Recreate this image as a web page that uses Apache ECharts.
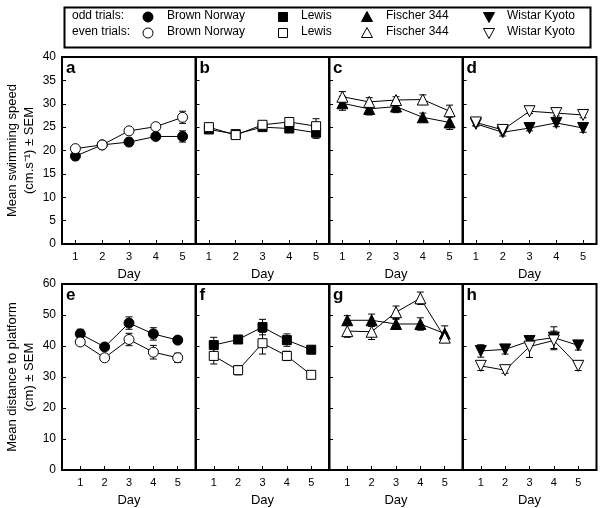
<!DOCTYPE html>
<html><head><meta charset="utf-8">
<script src="https://cdn.jsdelivr.net/npm/echarts@6/dist/echarts.min.js"></script>
<style>html,body{margin:0;padding:0;background:#fff}#c{width:600px;height:508px}</style>
</head><body><div id="c"></div>
<script>
const days = [1, 2, 3, 4, 5];
const dayTicks = [1, 2, 3, 4, 5];
const panelLetters = ['a','b','c','d','e','f','g','h'];
const strains = ['Brown Norway', 'Lewis', 'Fischer 344', 'Wistar Kyoto'];

// Swimming speed (cm/s), odd / even trials, with SEM
const speedBN_odd  = [18.8, 21.2, 21.8, 23.0, 23.0];
const speedBN_oddE = [0.8, 0.6, 0.8, 0.6, 1.2];
const speedBN_even = [20.4, 21.2, 24.2, 25.1, 27.1];
const speedBN_evenE= [0.5, 0.5, 0.5, 0.6, 1.3];
const speedLE_odd  = [24.5, 23.5, 25.0, 24.7, 23.8];
const speedLE_oddE = [0.6, 0.6, 0.7, 0.6, 1.2];
const speedLE_even = [25.0, 23.3, 25.5, 26.1, 25.2];
const speedLE_evenE= [0.5, 0.5, 0.5, 0.6, 1.6];
const speedF_odd   = [30.1, 28.9, 29.4, 27.1, 26.0];
const speedF_oddE  = [1.5, 1.3, 1.3, 0.9, 1.5];
const speedF_even  = [31.5, 30.4, 30.8, 30.9, 28.4];
const speedF_evenE = [1.1, 0.9, 0.7, 1.0, 1.3];
const speedWK_odd  = [25.7, 23.9, 24.8, 25.9, 24.8];
const speedWK_oddE = [0.5, 0.8, 0.6, 0.8, 0.9];
const speedWK_even = [26.0, 24.4, 28.4, 28.0, 27.6];
const speedWK_evenE= [0.6, 0.6, 0.5, 0.6, 0.6];

// Distance to platform (cm), odd / even trials, with SEM
const distBN_odd  = [43.9, 39.7, 47.4, 43.9, 41.9];
const distBN_oddE = [1.5, 1.0, 2.0, 2.0, 1.0];
const distBN_even = [41.3, 36.2, 42.1, 38.0, 36.2];
const distBN_evenE= [1.0, 1.0, 2.0, 2.2, 1.5];
const distLE_odd  = [40.3, 42.1, 46.1, 41.9, 38.8];
const distLE_oddE = [2.5, 1.0, 2.5, 2.0, 1.0];
const distLE_even = [36.8, 32.2, 40.9, 36.8, 30.7];
const distLE_evenE= [2.6, 1.5, 3.5, 1.5, 1.0];
const distF_odd   = [48.3, 48.3, 47.1, 47.1, 44.0];
const distF_oddE  = [1.5, 2.0, 1.5, 2.0, 2.5];
const distF_even  = [44.8, 44.6, 50.9, 55.4, 42.7];
const distF_evenE = [2.0, 2.5, 2.0, 2.0, 1.5];
const distWK_odd  = [38.4, 38.9, 41.6, 42.7, 40.2];
const distWK_oddE = [2.0, 1.5, 1.5, 3.5, 1.5];
const distWK_even = [33.6, 32.2, 39.8, 41.8, 33.6];
const distWK_evenE= [1.5, 1.0, 3.5, 3.0, 1.5];

const panels = [
  [speedBN_odd, speedBN_oddE, speedBN_even, speedBN_evenE],
  [speedLE_odd, speedLE_oddE, speedLE_even, speedLE_evenE],
  [speedF_odd, speedF_oddE, speedF_even, speedF_evenE],
  [speedWK_odd, speedWK_oddE, speedWK_even, speedWK_evenE],
  [distBN_odd, distBN_oddE, distBN_even, distBN_evenE],
  [distLE_odd, distLE_oddE, distLE_even, distLE_evenE],
  [distF_odd, distF_oddE, distF_even, distF_evenE],
  [distWK_odd, distWK_oddE, distWK_even, distWK_evenE]
];
const symbols = ['circle', 'rect', 'triangle', 'triangle'];
const symRot = [0, 0, 0, 180];
const symSize = [10, 9, 11, 11];

const FONT = 'Arial, "Liberation Sans", sans-serif';
const lefts = [62, 195.5, 329, 462.5];
const W = 134;
const grids = [], xAxes = [], yAxes = [], series = [], graphics = [];

for (let i = 0; i < 8; i++) {
  const row = i < 4 ? 0 : 1, col = i % 4;
  const top = row === 0 ? 57 : 284;
  const h = row === 0 ? 187 : 188;
  grids.push({left: lefts[col], top: top, width: W, height: h, show: true,
    borderColor: '#000', borderWidth: 2, backgroundColor: 'transparent'});
  xAxes.push({type: 'value', gridIndex: i,
    min: row === 0 ? 0.5 : 0.25, max: row === 0 ? 5.5 : 5.75,
    name: 'Day', nameLocation: 'middle', nameGap: 24,
    nameTextStyle: {fontFamily: FONT, fontSize: 13, color: '#000'},
    axisLine: {show: false}, splitLine: {show: false},
    axisTick: {show: true, inside: true, length: 4, lineStyle: {color: '#000'}, customValues: dayTicks},
    axisLabel: {show: true, fontFamily: FONT, fontSize: 11, color: '#000', margin: 7, customValues: dayTicks}
  });
  const isFirst = col === 0;
  yAxes.push({type: 'value', gridIndex: i, min: 0,
    max: row === 0 ? 40 : 60, interval: row === 0 ? 5 : 10,
    name: isFirst ? (row === 0 ? 'Mean swimming speed\n(cm.s\u207B\u00B9) \u00B1 SEM' : 'Mean distance to platform\n(cm) \u00B1 SEM') : '',
    nameLocation: 'middle', nameRotate: 90, nameGap: 24,
    nameTextStyle: {fontFamily: FONT, fontSize: 13, color: '#000', lineHeight: 17},
    axisLine: {show: false}, splitLine: {show: false},
    axisTick: {show: true, inside: true, length: 4, lineStyle: {color: '#000'}},
    axisLabel: {show: isFirst, fontFamily: FONT, fontSize: 12, color: '#000', margin: 6}
  });
  const p = panels[i];
  const s = col;
  const errData = [];
  for (let k = 0; k < days.length; k++) {
    errData.push([days[k], p[0][k], p[1][k]]);
    errData.push([days[k], p[2][k], p[3][k]]);
  }
  series.push({type: 'custom', xAxisIndex: i, yAxisIndex: i, z: 1, silent: true,
    data: errData,
    renderItem: function (params, api) {
      const x = api.value(0), m = api.value(1), e = api.value(2);
      const hi = api.coord([x, m + e]), lo = api.coord([x, m - e]);
      const cw = 3.5;
      const st = {stroke: '#000', lineWidth: 1, fill: null};
      return {type: 'group', children: [
        {type: 'line', shape: {x1: hi[0], y1: hi[1], x2: lo[0], y2: lo[1]}, style: st},
        {type: 'line', shape: {x1: hi[0] - cw, y1: hi[1], x2: hi[0] + cw, y2: hi[1]}, style: st},
        {type: 'line', shape: {x1: lo[0] - cw, y1: lo[1], x2: lo[0] + cw, y2: lo[1]}, style: st}
      ]};
    }
  });
  series.push({type: 'line', xAxisIndex: i, yAxisIndex: i, z: 2,
    data: days.map((d, k) => [d, p[0][k]]),
    symbol: symbols[s], symbolRotate: symRot[s], symbolSize: symSize[s],
    showAllSymbol: true, lineStyle: {color: '#000', width: 1},
    itemStyle: {color: '#000', borderColor: '#000', borderWidth: 1}, animation: false
  });
  series.push({type: 'line', xAxisIndex: i, yAxisIndex: i, z: 3,
    data: days.map((d, k) => [d, p[2][k]]),
    symbol: symbols[s], symbolRotate: symRot[s], symbolSize: symSize[s],
    showAllSymbol: true, lineStyle: {color: '#000', width: 1},
    itemStyle: {color: '#fff', borderColor: '#000', borderWidth: 1}, animation: false
  });
  graphics.push({type: 'text', left: lefts[col] + 4, top: top + 3,
    style: {text: panelLetters[i], font: 'bold 17px ' + FONT, fill: '#000'}});
}

// Legend box
graphics.push({type: 'rect', left: 62, top: 5, shape: {width: 526, height: 40},
  style: {fill: 'none', stroke: '#000', lineWidth: 2}});
const rowsY = [17, 33];
graphics.push({type: 'text', left: 72, top: rowsY[0] - 7, style: {text: 'odd trials:', font: '12px ' + FONT, fill: '#000'}});
graphics.push({type: 'text', left: 72, top: rowsY[1] - 7, style: {text: 'even trials:', font: '12px ' + FONT, fill: '#000'}});
const symX = [148, 283, 367, 489];
const txtX = [167, 301, 386, 507];
for (let j = 0; j < 4; j++) {
  for (let r = 0; r < 2; r++) {
    const cy = rowsY[r], cx = symX[j];
    const fill = r === 0 ? '#000' : '#fff';
    const st = {fill: fill, stroke: '#000', lineWidth: 1};
    let el;
    if (j === 0) el = {type: 'circle', shape: {cx: cx, cy: cy, r: 5}, style: st};
    else if (j === 1) el = {type: 'rect', shape: {x: cx - 4.5, y: cy - 4.5, width: 9, height: 9}, style: st};
    else if (j === 2) el = {type: 'polygon', shape: {points: [[cx, cy - 5.5], [cx + 5.5, cy + 4.5], [cx - 5.5, cy + 4.5]]}, style: st};
    else el = {type: 'polygon', shape: {points: [[cx, cy + 5.5], [cx + 5.5, cy - 4.5], [cx - 5.5, cy - 4.5]]}, style: st};
    graphics.push(el);
    graphics.push({type: 'text', left: txtX[j], top: cy - 7, style: {text: strains[j], font: '12px ' + FONT, fill: '#000'}});
  }
}

const chart = echarts.init(document.getElementById('c'), null, {renderer: 'canvas'});
chart.setOption({animation: false, backgroundColor: '#fff', grid: grids, xAxis: xAxes, yAxis: yAxes, series: series, graphic: graphics});
</script></body></html>
